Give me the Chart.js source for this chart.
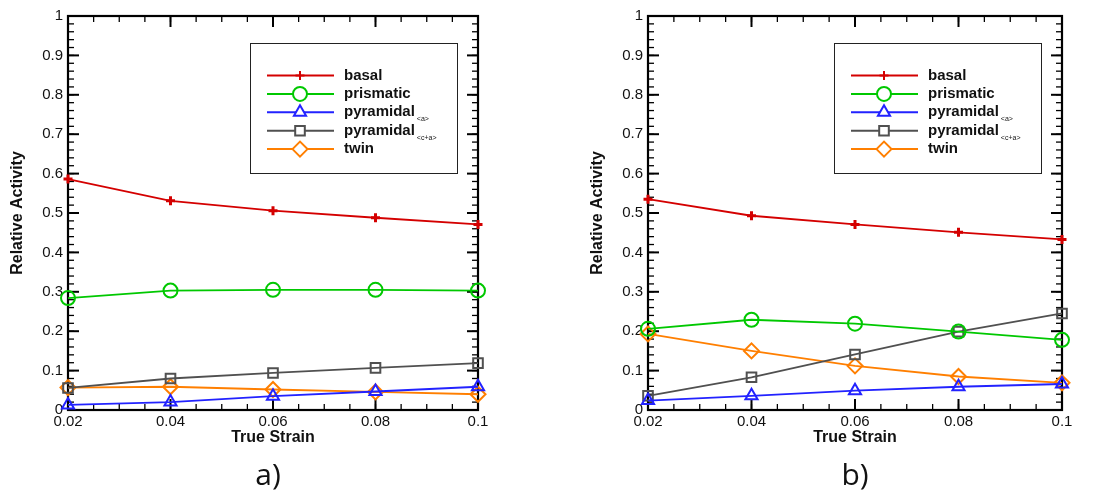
<!DOCTYPE html>
<html>
<head>
<meta charset="utf-8">
<script src="https://cdn.jsdelivr.net/npm/chart.js@4/dist/chart.umd.min.js"></script>
<style>
  body { margin: 0; background: #fff; width: 1098px; height: 492px; overflow: hidden; position: relative; }
  .box { position: absolute; top: 0; width: 549px; height: 492px; }
  .tag { position: absolute; top: 458px; font-family: "Open Sans", sans-serif; font-size: 30px; line-height: 32px; color: #111; transform: translateX(-50%); }
</style>
</head>
<body>
<div class="box" style="left:0"><canvas id="chartA"></canvas></div>
<div class="box" style="left:549px"><canvas id="chartB"></canvas></div>
<div class="tag" style="left:268px">a)</div>
<div class="tag" style="left:855px">b)</div>
<script>
// data
const strain = [0.02, 0.04, 0.06, 0.08, 0.1];
const xTicks = [0.02, 0.04, 0.06, 0.08, 0.1];
const yTicks = [0, 0.1, 0.2, 0.3, 0.4, 0.5, 0.6, 0.7, 0.8, 0.9, 1];

const seriesNames = ['basal', 'prismatic', 'pyramidal', 'pyramidal', 'twin'];
const seriesSubs = ['', '', '<a>', '<c+a>', ''];
const seriesColors = ['#d40000', '#00c800', '#2222ff', '#505050', '#ff7f00'];
const seriesMarkers = ['cross', 'circle', 'triangle', 'rect', 'rectRot'];
const markerSizes = [4.5, 7, 7, 6.8, 7.5];
const markerWidths = [3, 2, 2, 2, 2];

// a)
const basalA = [0.586, 0.531, 0.506, 0.488, 0.471];
const prismA = [0.284, 0.303, 0.305, 0.305, 0.303];
const pyrA_A = [0.013, 0.020, 0.035, 0.047, 0.059];
const pyrCA_A = [0.056, 0.080, 0.094, 0.107, 0.119];
const twinA = [0.057, 0.059, 0.052, 0.046, 0.040];

// b)
const basalB = [0.535, 0.493, 0.471, 0.451, 0.433];
const prismB = [0.206, 0.229, 0.219, 0.199, 0.178];
const pyrA_B = [0.024, 0.036, 0.049, 0.059, 0.066];
const pyrCA_B = [0.036, 0.083, 0.141, 0.199, 0.245];
const twinB = [0.193, 0.150, 0.112, 0.085, 0.069];

const tickFont = { family: '"Liberation Sans", Arial, sans-serif', size: 15 };
const titleFont = { family: '"Liberation Sans", Arial, sans-serif', size: 16, weight: 'bold' };

// frame plus inward ticks on all four sides
const frameTicks = {
  id: 'frameTicks',
  beforeDatasetsDraw(chart) {
    const { ctx, chartArea: a, scales: { x, y } } = chart;
    ctx.save();
    ctx.strokeStyle = '#000';
    const tick = (x1, y1, x2, y2) => { ctx.beginPath(); ctx.moveTo(x1, y1); ctx.lineTo(x2, y2); ctx.stroke(); };
    ctx.lineWidth = 1.3;
    for (let i = 0; i <= 16; i++) {
      const px = x.getPixelForValue(0.02 + i * 0.005);
      tick(px, a.bottom, px, a.bottom - 6);
      tick(px, a.top, px, a.top + 6);
    }
    for (let i = 0; i <= 50; i++) {
      const py = y.getPixelForValue(i * 0.02);
      tick(a.left, py, a.left + 6, py);
      tick(a.right, py, a.right - 6, py);
    }
    ctx.lineWidth = 2;
    xTicks.forEach(v => {
      const px = x.getPixelForValue(v);
      tick(px, a.bottom, px, a.bottom - 11);
      tick(px, a.top, px, a.top + 11);
    });
    yTicks.forEach(v => {
      const py = y.getPixelForValue(v);
      tick(a.left, py, a.left + 11, py);
      tick(a.right, py, a.right - 11, py);
    });
    ctx.lineWidth = 2.2;
    ctx.strokeRect(a.left, a.top, a.right - a.left, a.bottom - a.top);
    ctx.restore();
  }
};

// boxed legend with line + marker samples and subscripts
const boxLegend = {
  id: 'boxLegend',
  afterDraw(chart) {
    const { ctx, chartArea: a } = chart;
    const left = a.right - 228, top = 43, w = 207, h = 130;
    ctx.save();
    ctx.fillStyle = '#fff';
    ctx.fillRect(left, top, w, h);
    ctx.strokeStyle = '#222';
    ctx.lineWidth = 1;
    ctx.strokeRect(left + 0.5, top + 0.5, w, h);
    seriesNames.forEach((name, i) => {
      const ry = top + 32.5 + i * 18.4;
      ctx.strokeStyle = seriesColors[i];
      ctx.lineWidth = 2;
      ctx.beginPath();
      ctx.moveTo(left + 17, ry);
      ctx.lineTo(left + 84, ry);
      ctx.stroke();
      ctx.fillStyle = i === 0 ? seriesColors[i] : '#fff';
      Chart.helpers.drawPoint(ctx, {
        pointStyle: seriesMarkers[i], radius: markerSizes[i], rotation: 0, borderWidth: markerWidths[i]
      }, left + 50, ry);
      ctx.fillStyle = '#111';
      ctx.font = 'bold 15px "Liberation Sans", Arial, sans-serif';
      ctx.textBaseline = 'middle';
      ctx.textAlign = 'left';
      ctx.fillText(name, left + 94, ry);
      if (seriesSubs[i]) {
        const tw = ctx.measureText(name).width;
        ctx.font = '7px "Liberation Sans", Arial, sans-serif';
        ctx.fillText(seriesSubs[i], left + 96 + tw, ry + 7);
      }
    });
    ctx.restore();
  }
};

function makeChart(id, series, pad) {
  const datasets = series.map((vals, i) => ({
    label: seriesNames[i] + seriesSubs[i],
    data: strain.map((s, k) => ({ x: s, y: vals[k] })),
    borderColor: seriesColors[i],
    backgroundColor: seriesColors[i],
    borderWidth: 1.8,
    pointStyle: seriesMarkers[i],
    pointRadius: markerSizes[i],
    pointBorderWidth: markerWidths[i],
    pointBackgroundColor: i === 0 ? seriesColors[i] : 'rgba(0,0,0,0)',
    pointBorderColor: seriesColors[i],
    tension: 0,
    clip: false
  }));

  return new Chart(document.getElementById(id), {
    type: 'line',
    data: { datasets },
    options: {
      responsive: true,
      maintainAspectRatio: false,
      animation: false,
      layout: { padding: pad },
      plugins: { legend: { display: false }, tooltip: { enabled: false } },
      scales: {
        x: {
          type: 'linear',
          min: 0.02,
          max: 0.1,
          afterBuildTicks: s => { s.ticks = xTicks.map(v => ({ value: v })); },
          afterFit: s => { s.height = 40; },
          grid: { display: false, drawTicks: false },
          border: { display: false },
          ticks: { font: tickFont, color: '#111', padding: 3, maxRotation: 0, callback: v => String(+v.toFixed(3)) },
          title: { display: true, text: 'True Strain', font: titleFont, color: '#111', padding: { top: 0, bottom: 3 } }
        },
        y: {
          min: 0,
          max: 1,
          afterBuildTicks: s => { s.ticks = yTicks.map(v => ({ value: v })); },
          afterFit: s => { s.width = 68; },
          grid: { display: false, drawTicks: false },
          border: { display: false },
          ticks: { font: tickFont, color: '#111', padding: 5, callback: v => String(+v.toFixed(2)) },
          title: { display: true, text: 'Relative Activity', font: titleFont, color: '#111', padding: 8 }
        }
      }
    },
    plugins: [frameTicks, boxLegend]
  });
}

makeChart('chartA', [basalA, prismA, pyrA_A, pyrCA_A, twinA], { left: 0, right: 71, top: 16, bottom: 42 });
makeChart('chartB', [basalB, prismB, pyrA_B, pyrCA_B, twinB], { left: 31, right: 36, top: 16, bottom: 42 });
</script>
</body>
</html>
